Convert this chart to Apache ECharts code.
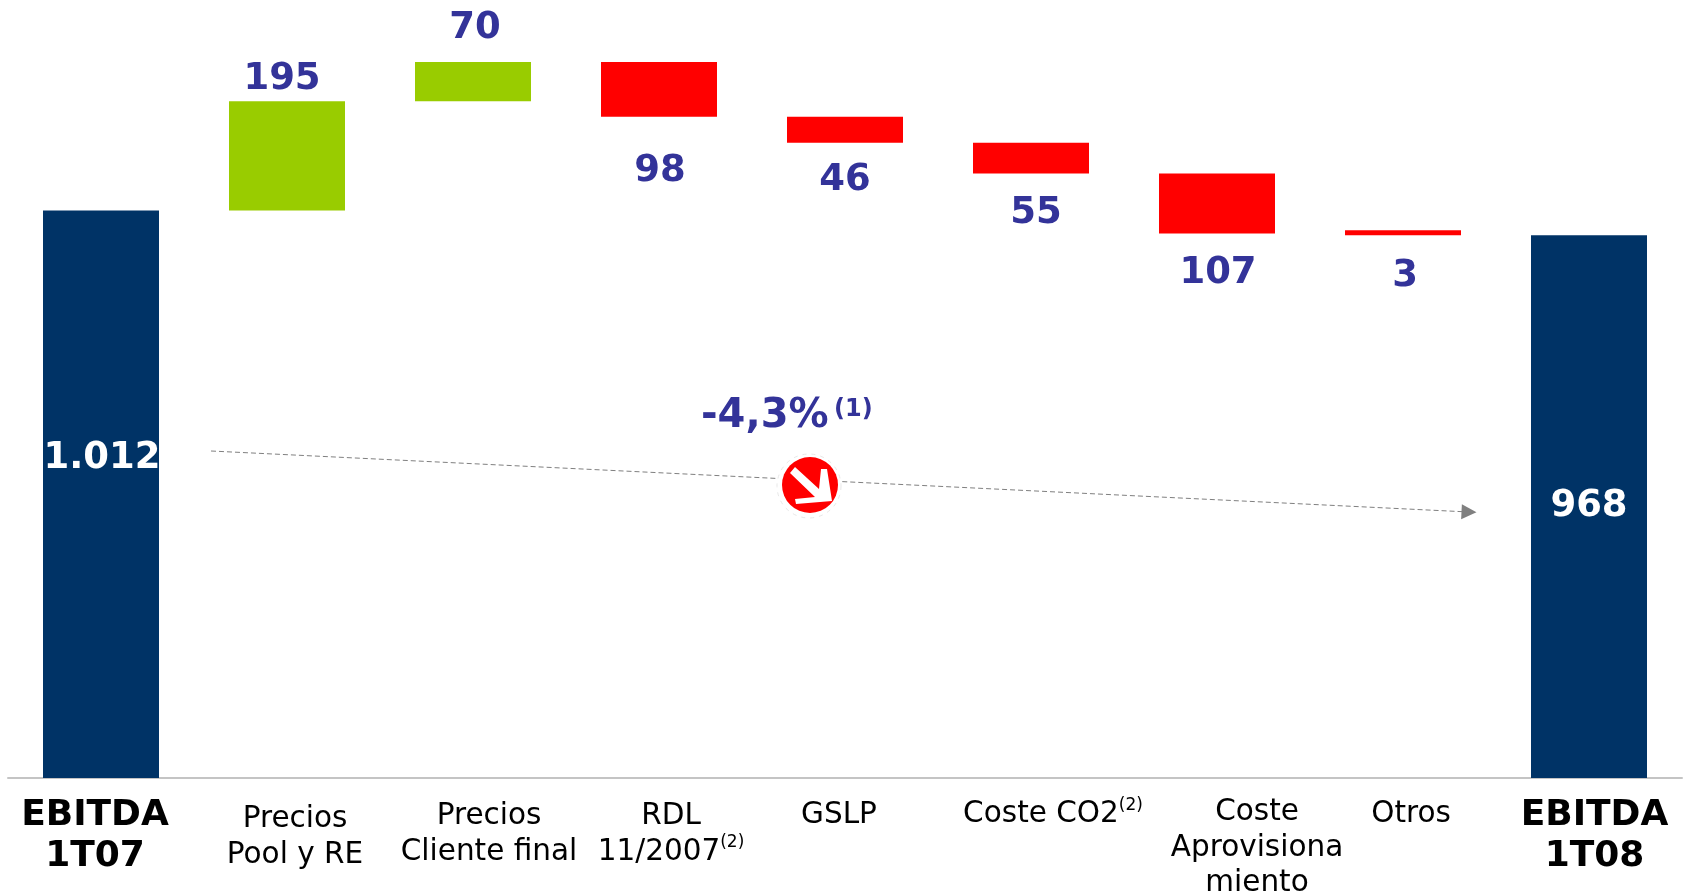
<!DOCTYPE html>
<html>
<head>
    <meta charset="utf-8">
    <title>EBITDA 1T07 - 1T08</title>
    <style>
        html, body { margin: 0; padding: 0; background: #fff; }
    </style>
</head>
<body>
    <div id="main" style="width: 1683px;height:893px;"></div>
<script src="https://cdn.jsdelivr.net/npm/echarts@6/dist/echarts.min.js"></script>
<script>
var categories = ['EBITDA\n1T07', 'Precios\nPool y RE', 'Precios\nCliente final', 'RDL\n11/2007(2)', 'GSLP',
    'Coste CO2(2)', 'Coste\nAprovisiona\nmiento', 'Otros', 'EBITDA\n1T08'];
var totals    = [1012, null, null, null, null, null, null, null, 968];
var increases = [null, 195, 70, null, null, null, null, null, null];
var decreases = [null, null, null, 98, 46, 55, 107, 3, null];
var trendLabel = '-4,3%';
var trendNote = '(1)';

// hidden base of the waterfall, walked from the values above
var base = [];
var running = 0;
categories.forEach(function (c, i) {
    if (totals[i] != null) {
        base.push(null);
        running = totals[i];
    } else if (increases[i] != null) {
        base.push(running);
        running += increases[i];
    } else {
        running -= decreases[i];
        base.push(running);
    }
});

var FONT = '"DejaVu Sans"';
var INK = '#333399';

// hand placed label shifts, the original slide is not regular
var valueShift = [[1, -36], [-5, 2], [2, -10], [1, 31], [0, 14], [5, 16], [1, 16], [2, 18], [0, 0]];
// [top padding, left padding, right padding] of each axis label
var tickPad = [[0, 0, 12], [7, 16, 0], [4, 32, 0], [4, 24, 0], [3, 0, 12], [2, 44, 0], [0, 80, 0], [2, 16, 0], [0, 11, 0]];

function withShift(values) {
    return values.map(function (v, i) {
        if (v == null) return '-';
        return { value: v, label: { offset: valueShift[i] } };
    });
}

function money(p) {
    return String(p.value).replace(/\B(?=(\d{3})+$)/g, '.');
}

var labelStyle = { show: true, fontFamily: FONT, fontWeight: 'bold', fontSize: 37, color: INK, formatter: money };

var myChart = echarts.init(document.getElementById('main'));

myChart.setOption({
    animation: false,
    backgroundColor: '#fff',
    grid: { left: 8, right: 1, top: 49, bottom: 115, outerBoundsMode: 'none' },
    xAxis: {
        type: 'category',
        offset: 1,
        data: categories.map(function (c, i) {
            var bold = c.indexOf('EBITDA') === 0;
            return {
                value: c,
                textStyle: {
                    fontSize: bold ? 36 : 29.5,
                    fontWeight: bold ? 'bold' : 'normal',
                    lineHeight: bold ? 41 : 35.5,
                    padding: [tickPad[i][0], tickPad[i][2], 0, tickPad[i][1]]
                }
            };
        }),
        axisLine: { lineStyle: { color: '#c4c4c4', width: 2 } },
        axisTick: { show: false },
        axisLabel: {
            interval: 0,
            margin: 16,
            color: '#000',
            fontFamily: FONT,
            formatter: function (v) {
                return v.replace(/\((\d)\)/, '{sup|($1)}');
            },
            rich: {
                sup: { fontFamily: FONT, fontSize: 17, color: '#000', verticalAlign: 'top', padding: [0, 0, 10, 0] }
            }
        }
    },
    yAxis: { type: 'value', min: 0, max: 1300, show: false },
    series: [
        {
            name: 'base', type: 'bar', stack: 'w', barWidth: 116, silent: true,
            itemStyle: { color: 'transparent' },
            data: base.map(function (v) { return v == null ? '-' : v; }),
            markLine: {
                silent: true,
                symbol: ['none', 'none'],
                label: { show: false },
                lineStyle: { color: '#808080', width: 1, type: [5, 3] },
                data: [[
                    { x: 211, y: 451, symbol: 'none' },
                    { x: 1469, y: 512, symbol: 'triangle', symbolSize: 15 }
                ]]
            }
        },
        {
            name: 'EBITDA', type: 'bar', stack: 'w',
            itemStyle: { color: '#003366' },
            label: Object.assign({}, labelStyle, { position: 'inside', color: '#fff' }),
            data: withShift(totals)
        },
        {
            name: 'Suben', type: 'bar', stack: 'w',
            itemStyle: { color: '#99cc00' },
            label: Object.assign({}, labelStyle, { position: 'top', distance: 5 }),
            data: withShift(increases)
        },
        {
            name: 'Bajan', type: 'bar', stack: 'w', barMinHeight: 5,
            itemStyle: { color: '#ff0000' },
            label: Object.assign({}, labelStyle, { position: 'bottom', distance: 5 }),
            data: withShift(decreases)
        }
    ],
    graphic: [
        // white ring and red badge over the trend line
        { type: 'circle', z: 10, shape: { cx: 809, cy: 486, r: 32 }, style: { fill: '#fff', stroke: '#e8e8e8', lineWidth: 1, lineDash: [4, 5] } },
        { type: 'circle', z: 11, shape: { cx: 810, cy: 485, r: 28 }, style: { fill: '#ff0000' } },
        {
            type: 'polygon', z: 12,
            shape: { points: [[795, 467], [819, 489], [821, 469], [827, 469], [832, 501], [796, 504], [795, 499], [815, 497], [790, 473]] },
            style: { fill: '#fff' }
        },
        { type: 'text', z: 12, x: 701, y: 397, style: { text: trendLabel, fill: INK, font: 'bold 40px "DejaVu Sans"' } },
        { type: 'text', z: 12, x: 834, y: 398, style: { text: trendNote, fill: INK, font: 'bold 24px "DejaVu Sans"' } }
    ]
});
</script>
</body>
</html>
